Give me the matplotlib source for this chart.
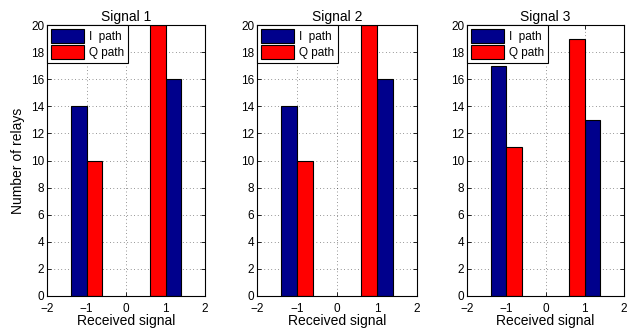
import matplotlib
matplotlib.use("Agg")
import matplotlib.pyplot as plt
import numpy as np

plt.rcParams['font.family'] = ['Liberation Sans', 'DejaVu Sans']

titles = ["Signal 1", "Signal 2", "Signal 3"]
# I path bars are left of the -1 group and right of the +1 group
i_pos = [-1.2, 1.2]
q_pos = [-0.8, 0.8]
i_counts = [[14, 16], [14, 16], [17, 13]]
q_counts = [[10, 20], [10, 20], [11, 19]]

navy = (0, 0, 0.55)
red = (1, 0, 0)

fig = plt.figure(figsize=(6.31, 3.28), dpi=100)
lefts = [47 / 631, 257 / 631, 467 / 631]
widths = [158 / 631, 160 / 631, 157 / 631]

for k in range(3):
    ax = fig.add_axes([lefts[k], 32 / 328, widths[k], 271 / 328])
    ax.bar(i_pos, i_counts[k], width=0.4, color=navy, edgecolor='black',
           linewidth=0.8, label='I  path', zorder=2)
    ax.bar(q_pos, q_counts[k], width=0.4, color=red, edgecolor='black',
           linewidth=0.8, label='Q path', zorder=2)
    ax.set_xlim(-2, 2)
    ax.set_ylim(0, 20)
    ax.set_xticks([-2, -1, 0, 1, 2])
    ax.set_xticklabels(['\u22122', '\u22121', '0', '1', '2'])
    ax.set_yticks(np.arange(0, 21, 2))
    ax.grid(True, linestyle=(0, (1, 4)), color='black', linewidth=0.5, alpha=0.8, zorder=0)
    ax.tick_params(direction='in', top=True, right=True, labelsize=8.5, length=3,
                   width=0.6, pad=2)
    ax.tick_params(axis='x', pad=5)
    for s in ax.spines.values():
        s.set_linewidth(0.8)
    ax.set_title(titles[k], fontsize=10, pad=3)
    ax.set_xlabel("Received signal", fontsize=10, labelpad=-1)
    if k == 0:
        ax.set_ylabel("Number of relays", fontsize=10, labelpad=4)
    leg = ax.legend(loc='upper left', fontsize=8.5, frameon=True, fancybox=False,
                    borderaxespad=0, handlelength=2.8, handleheight=1.4,
                    handletextpad=0.4, borderpad=0.35, labelspacing=0.2)
    leg.get_frame().set_edgecolor('black')
    leg.get_frame().set_linewidth(0.8)
    leg.get_frame().set_alpha(1)

fig.savefig("out.png", dpi=100)
